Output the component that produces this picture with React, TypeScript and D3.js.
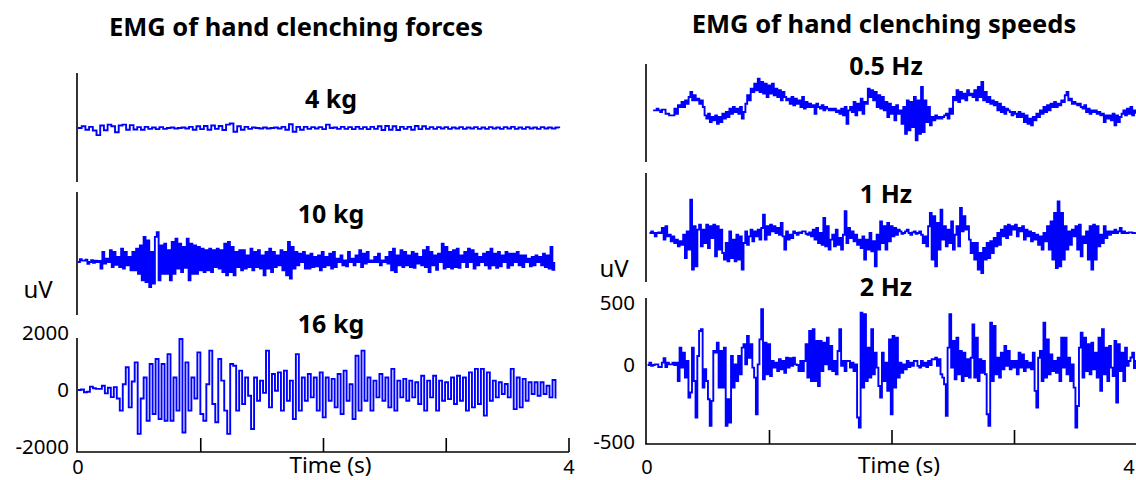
import React from 'react';
import * as d3 from 'd3';

// ---------- data ----------
const panelTitles = ['EMG of hand clenching forces', 'EMG of hand clenching speeds'];
const forceLabels = ['4 kg', '10 kg', '16 kg'];
const speedLabels = ['0.5 Hz', '1 Hz', '2 Hz'];
const forceTicks = [-2000, 0, 2000];
const speedTicks = [-500, 0, 500];
const timeTicks = [0, 1, 2, 3, 4];
const timeTickLabels = ['0', '', '', '', '4'];
const timeLabel = 'Time (s)';
const unitLabel = 'uV';

// time span (s) of each recording
const forceSpans = [[0, 3.92], [0, 3.88], [0, 3.89]];
const speedSpans = [[0.05, 3.99], [0.02, 3.99], [0.005, 3.99]];

// EMG, uV
const emg4kg = [0, 60, -60, 40, -90, -250, 90, -80, 120, 60, -150, 90, 120, -60, 100, -50, 30, -60, 40, -30, 20, -40, 30, -30, 0, 20, -20, 0, 20, -20, 40, -60, 60, -40, 70, -60, 90, -30, 70, -70, 120, 160, -130, 60, -60, 40, -30, 20, 0, -20, 20, -20, 0, 20, -20, 40, -60, 130, -130, 40, -60, 40, -30, 30, -20, 30, -40, 120, 0, 20, -30, 40, -30, 30, -40, 40, -30, 30, -40, 40, -30, 60, -70, 70, -60, 60, -70, 40, -30, 40, -60, 70, -40, 60, -30, 30, -30, 30, -20, 30, -30, 20, -20, 30, -30, 20, -20, 30, -30, 20, -30, 30, -20, 20, -30, 30, -20, 40, -30, 20, -30, 30, -20, 20, -30, 30, -20, 20, -20, 20, 0];

const emg10kg = [0, 100, 50, 50, 80, -60, 0, 60, -30, 50, 0, 40,
  -230, 350, -58, 117, 0,
  410, -175, 350, -100, 175, -175, 470, -234, 350, -117, 175, -290, 350, -290, 470, -410, 585, -640, 880, -700, 760, -880, 350, -760, 880, 1050, -640, 585, -410, 640, -410, 410, -640, 700, -410, 820, -234, 640, -350, 525, -200, 820, -640, 640, -410, 585, -410, 525, -290, 470, -350, 410, -290, 470, -350, 410, -175, 470, -234, 410, -350, 640, -470, 700, -350, 525, -470, 350, -175, 410, -290, 410, -234, 234, -175, 470, -290, 350, -175, 410, -234, 234, -470, 350, -234, 470, -350, 350, -175, 234, -117, 410, -290, 350, -470, 700, -585, 525, -234, 350, -117, 290, 0, 350, -234, 234, -234, 290, -175, 175, -150, 234, -290, 350, -175, 175, -117, 290, -234, 350, -175, 117, 0, 234, -117, 58, -150, 350, 0, 117, -117, 234, 0, 410, -175, 290, -58, 350, 0, 58, 0, 175, 0, 290, -117, 58, 0, 175, -58, 350, -290, 470, -350, 234, -117, 410, -175, 350, -117, 234, -175, 350, -200, 290, -58, 175, -117, 410, -175, 525, -350, 350, -117, 234, -270, 290, 0, 640, -234, 525, -175, 350, -234, 410, -175, 470, -200, 234, 0, 350, -175, 470, 0, 410, -234, 290, -117, 175, 0, 290, -117, 350, -234, 470, -117, 290, -200, 350, -150, 234, 0, 350, -200, 290, -117, 290, 0, 350, -117, 234, -175, 234, 0, 117, -150, 175, -117, 234, 0, 175, -117, 290, -175, 234, -234, 525, -270, 0];

const emg16kg = [0, 20, -80, -60, 120, 60, 40, 40, 150, -120, 80, -250, 100, -300,
  -725, 200, 800, -610, 300, 970, -1540, -300, 440, -1080, 910, -840, 1090, -1020, 910, -1080, 1260, -1080, 440, -725, 1790, -1490, 970, -725, 440, -300, 1320, -840, -1080, 200, 1380, -490, -1130, 1090, 330, -725, -1540, 910, 850, -725, 680, -490, 440, -200, -1370, 440, -375, 330, -100, 1380, -610, 560, -25, 620, -725, 680, -375, 330, -1020, 1260, -725, 440, -375, 560, -260, 440, -725, 620, -960, 440, -375, 390, -610, 560, -840, 680, -375, 200, -1020, 1200, -725, 1380, -375, 440, -725, 330, -260, 560, -375, 440, -610, 740, -725, 330, -260, 390, -375, 330, -260, 270, -490, 500, -725, 330, -260, 500, -725, 330, -375, 270, -315, 440, -490, 500, -375, 440, -725, 620, -610, 740, -490, 740, -900, 620, -375, 330, -260, 270, -140, 210, -260, 740, -670, 440, -610, 390, -375, 270, -140, 270, -200, 270, -140, 150, -260, 350, -300];

const emgHalfHz = [13, 13, 27, 13, 0, 19, 19, -11, -11, -22, -22, -22, 27, -11, 54, 40, 81, 40, 94, 67, 121, 161, 94, 135, 94, 108, 67, 94, 40, -22, -43, -11, -65, -32, -54, -22, -76, -32, -65, -11, -43, 0, -32, 27, -11, 40, 0, 27, -11, 40, -43, 0, 67, 135, 94, 188, 161, 229, 175, 269, 161, 242, 148, 229, 121, 215, 148, 229, 135, 188, 121, 175, 94, 161, 121, 94, 108, 67, 121, 54, 108, 67, 94, 40, 121, 27, 81, 40, 67, 40, 54, -11, 67, 40, 27, 54, 13, 40, 27, 13, 27, 13, 27, 0, 13, -11, 27, -22, 40, -76, 13, 40, 0, 81, -22, 67, 13, 108, -11, 81, 67, 188, 121, 175, 94, 161, 40, 135, 27, 121, 13, 81, -32, 67, -11, 40, -54, 54, -11, 13, -76, 40, -141, 94, -119, 81, -97, 121, -184, 94, -141, 202, -130, 94, -65, 40, -87, -32, -54, -22, -43, -32, -43, -32, -22, -11, -43, 27, -11, 121, 94, 175, 81, 161, 108, 148, 94, 175, 135, 148, 121, 175, 94, 202, 121, 242, 94, 161, 81, 121, 67, 94, 54, 81, 13, 67, 0, 40, -11, 27, 13, 0, -22, 0, -11, -32, 0, -32, -11, -65, -22, -76, -43, -87, -32, -54, -11, -32, 13, -11, 40, 0, 54, 13, 67, 40, 81, 40, 67, 54, 94, 81, 135, 161, 94, 108, 67, 81, 67, 54, 67, 40, 27, 54, 0, 27, -11, 13, 0, 13, -11, 0, -22, -11, -65, -22, -43, -22, -54, -11, -87, -22, -65, -32, -11, 13, -22, 27, -11, 40, -22, 13, -11];

const emg1Hz = [0, 13, 0, -22, 0, 5, 0, 40, -43, 54, -22, -11, -54, -22, -65, -43, -87, -54, -76, -11, -162, 13, -108, 269, -238, 54, -216, 27, 67, -87, 27, -65, 67, -97, 54, -32, 67, -151, 54, -108, 27, -130, -173, -65, -184, 13, -162, -43, -184, -11, -173, -22, -238, -65, 13, -76, -22, 27, -54, 13, -22, 27, -43, 40, 148, -43, 54, -11, 67, 13, 54, 0, 40, -11, 81, -22, -108, 13, -43, -11, -32, 13, 0, -11, 5, 0, 13, 13, -5, -11, 5, -22, 27, -43, 40, -65, 0, -76, 121, -87, 54, -108, -43, -11, -87, 27, -76, -32, -108, -11, 175, -65, 40, -32, 13, -54, -11, -76, -43, -97, -22, -173, -43, -108, 0, -119, -54, -216, -11, -108, 94, -65, 54, -108, 81, -54, 54, -22, 40, -11, 27, 13, -5, 0, 13, 27, 0, -11, 5, 13, -5, 0, 13, -11, -65, -22, -87, 54, 161, -173, 135, -216, 81, -108, 188, -43, 54, -87, 27, -65, 94, -108, -11, 54, -87, 202, 13, 135, 27, 54, -43, -130, -65, -173, -65, -238, -130, -260, -97, -173, -65, -162, -54, -130, -32, -87, 0, -76, 27, -22, 54, -32, 67, -11, 54, 27, 67, -22, 40, 13, 54, -43, 27, -22, 13, -54, 0, -43, -11, -76, -22, -108, 0, -54, 54, -108, 94, -173, 161, -227, 255, -216, 161, -173, 54, -108, 13, -76, 27, -22, 54, -108, 67, -151, -22, -65, 13, -173, 54, -238, 67, -173, 54, -87, -11, -65, 54, -32, 13, -11, 13, 0, 27, 0, 13, 40, 0, 13, 0, 0, 5, 5, 0, 0, 5];

const emg2Hz = [0, 19, -6, 0, 5, 5, -13, -13, 19, 54, -13, 19, 5, 5, 19, 0, 19, -104, 140, -17, 100, -82, 32, -212, -179, 140, -104, -341, 73, 274, 288, -147, -28, -104, -222, -395, -233, 113, 100, 180, -147, 113, -147, 140, -395, -222, -374, 73, -147, 5, -104, 73, -60, 140, 167, 5, 234, 59, 167, -17, -82, -320, 5, 207, 450, -93, 180, -60, 167, -71, 32, -17, 19, -39, 46, -28, 32, -50, 59, -17, 54, -6, 59, 5, 0, -39, 32, -39, 32, 167, -82, 274, -104, 288, -104, 194, -136, 194, -39, 180, 5, 221, -28, 153, -39, 32, -60, 113, 288, -6, 32, -39, 32, 32, -17, 19, -39, 5, -341, -406, 422, -147, 409, -104, 140, -82, 288, -60, 100, -17, -136, -212, 100, -104, 19, -168, 207, -320, 234, -147, 221, -82, 19, -50, 5, -28, 32, -13, 19, -6, 32, 32, -6, -17, 32, -6, 19, -13, 32, 0, 46, 46, 59, -6, 46, -60, -82, -125, -330, 140, 409, -17, 194, -93, 221, -60, 113, -104, 100, -71, 46, -82, 59, 328, -82, 221, -104, 46, -50, 32, -60, -320, -395, 342, -104, 315, -60, 59, -82, 100, -28, 153, -6, 113, -28, 32, -17, 32, -60, 100, -17, 86, -39, 32, -17, 19, -28, 100, -168, -276, 59, 113, -104, 342, -82, 207, -60, 86, -39, 32, -50, 59, -104, 221, -17, 221, -60, 59, -104, 5, -147, -406, -266, 140, 261, -82, 221, -39, 167, -60, 180, -28, 100, -82, 221, -168, 288, -60, 140, -104, 153, -17, -71, 194, -244, 167, -39, 100, -104, 140, -6, 32, 60, 100, -20, 40];

const forceSeries = [emg4kg, emg10kg, emg16kg];
const speedSeries = [emgHalfHz, emg1Hz, emg2Hz];

// ---------- layout ----------
const W = 1136;
const H = 480;
const FONT = '"Noto Sans", "Open Sans", sans-serif';
const BLUE = '#0000ff';

type Sub = { top: number; bottom: number; zero: number };

const leftLayout = {
  x0: 78, x1: 569, axisY: 452, tickLabelX: 69, unitX: 38, unitY: 298,
  titleX: 296, titleY: 36, subX: 331,
  subs: [
    { top: 73, bottom: 182, zero: 128 },
    { top: 192, bottom: 315, zero: 262 },
    { top: 338, bottom: 452, zero: 390 },
  ] as Sub[],
  subTitleY: [108, 223, 333],
};

const rightLayout = {
  x0: 647, x1: 1137, axisY: 444, tickLabelX: 635, unitX: 614, unitY: 277,
  titleX: 884, titleY: 33, subX: 886,
  subs: [
    { top: 64, bottom: 162, zero: 112 },
    { top: 173, bottom: 282, zero: 233 },
    { top: 298, bottom: 444, zero: 365 },
  ] as Sub[],
  subTitleY: [75, 203, 296],
};

function Panel(props: {
  layout: typeof leftLayout;
  title: string;
  labels: string[];
  series: number[][];
  spans: number[][];
  ticks: number[];
  makeY: (zero: number) => d3.ScaleLinear<number, number>;
}) {
  const { layout, title, labels, series, spans, ticks, makeY } = props;
  const x = d3.scaleLinear().domain([0, 4]).range([layout.x0, layout.x1]);
  const lastSub = layout.subs[layout.subs.length - 1];
  const yLast = makeY(lastSub.zero);
  return (
    <g>
      <text x={layout.titleX} y={layout.titleY} textAnchor="middle" fontWeight="bold" fontSize={25.5} fontFamily={FONT}>{title}</text>
      {layout.subs.map((s, i) => {
        const y = makeY(s.zero);
        const data = series[i];
        const [t0, t1] = spans[i];
        const n = data.length;
        const line = d3.line<number>()
          .x((_, k) => x(t0 + (k * (t1 - t0)) / (n - 1)))
          .y((d) => y(d))
          .curve(d3.curveStepAfter);
        return (
          <g key={i}>
            <line x1={layout.x0 - 1} x2={layout.x0 - 1} y1={s.top} y2={s.bottom} stroke="#000" strokeWidth={1.6} />
            <path d={line(data) || ''} fill="none" stroke={BLUE} strokeWidth={1.9} strokeLinejoin="miter" />
            <text x={layout.subX} y={layout.subTitleY[i]} textAnchor="middle" fontWeight="bold" fontSize={25} fontFamily={FONT}>{labels[i]}</text>
          </g>
        );
      })}
      {/* x axis */}
      <line x1={layout.x0 - 1.8} x2={layout.x1} y1={layout.axisY} y2={layout.axisY} stroke="#000" strokeWidth={1.6} />
      {timeTicks.slice(1).map((t) => (
        <line key={t} x1={x(t)} x2={x(t)} y1={layout.axisY} y2={layout.axisY - 14} stroke="#000" strokeWidth={1.6} />
      ))}
      {timeTicks.map((t, i) => timeTickLabels[i] ? (
        <text key={t} x={Math.min(x(t), W - 7)} y={474} textAnchor="middle" fontSize={20} fontFamily={FONT}>{timeTickLabels[i]}</text>
      ) : null)}
      <text x={x(2) + 7} y={473} textAnchor="middle" fontSize={22.5} fontFamily={FONT}>{timeLabel}</text>
      {ticks.map((v) => (
        <text key={v} x={layout.tickLabelX} y={yLast(v)} dy="0.35em" textAnchor="end" fontSize={20.5} fontFamily={FONT}>{String(v)}</text>
      ))}
      <text x={layout.unitX} y={layout.unitY} textAnchor="middle" fontSize={24} fontFamily={FONT}>{unitLabel}</text>
    </g>
  );
}

export default function App() {
  const leftY = (zero: number) => d3.scaleLinear().domain([-2000, 2000]).range([zero + 57, zero - 57]);
  const rightY = (zero: number) => d3.scaleLinear().domain([-500, 0, 500]).range([zero + 77, zero, zero - 62]);
  return (
    <svg width={W} height={H} style={{ position: 'absolute', left: 0, top: 0, background: '#fff' }}>
      <rect width={W} height={H} fill="#fff" />
      <Panel layout={leftLayout} title={panelTitles[0]} labels={forceLabels} series={forceSeries} spans={forceSpans} ticks={forceTicks} makeY={leftY} />
      <Panel layout={rightLayout as any} title={panelTitles[1]} labels={speedLabels} series={speedSeries} spans={speedSpans} ticks={speedTicks} makeY={rightY} />
    </svg>
  );
}
